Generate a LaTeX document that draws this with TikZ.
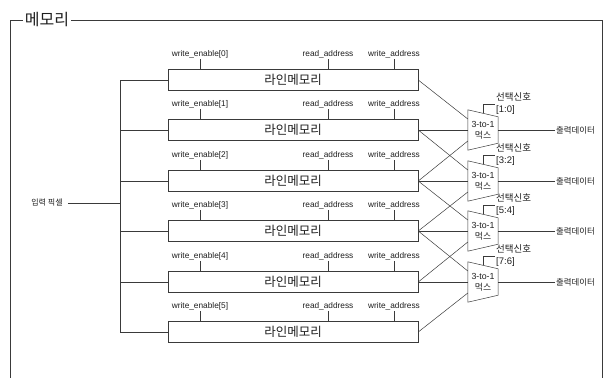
\documentclass[tikz,border=0pt]{standalone}
\usepackage{fontspec}
\setmainfont{Liberation Sans}
\newfontfamily\kr{Noto Sans CJK KR}
\usetikzlibrary{calc}
\definecolor{InkGray}{HTML}{3A3A3A}
\definecolor{TextGray}{HTML}{1E1E1E}
\tikzset{
  wire/.style={draw=InkGray, line width=0.5pt},
  linemem/.style={draw=InkGray, line width=0.5pt, minimum width=250pt, minimum height=21pt, inner sep=0pt, text=TextGray, font=\kr\fontsize{12.5}{14}\selectfont},
  sig/.style={inner sep=1pt, text=TextGray, font=\fontsize{8.3}{9}\selectfont},
  muxbox/.style={minimum width=30pt, minimum height=40pt, inner sep=0pt, align=center, text=TextGray, font=\fontsize{8.8}{11}\selectfont},
  sellabel/.style={anchor=west, inner sep=1pt, align=left, text=TextGray, font=\fontsize{9.5}{12}\selectfont},
  outlabel/.style={anchor=west, inner sep=1pt, text=TextGray, font=\kr\fontsize{8.4}{10}\selectfont},
  titlebox/.style={fill=white, inner sep=2pt, text=TextGray, font=\kr\fontsize{16}{18}\selectfont}
}

\begin{document}
\begin{tikzpicture}[x=1pt, y=-1pt]
\useasboundingbox (0,0) rectangle (606,378);
% outer frame
\node[titlebox] (title) at (47,20) {메모리};
\draw[wire] (title.west) -- (10,20) -- (10,378);
\draw[wire] (title.east) -- (602,20) -- (602,378);
% line memories
\node[linemem] (b0) at (293,80) {라인메모리};
\node[linemem] (b1) at (293,130) {라인메모리};
\node[linemem] (b2) at (293,181) {라인메모리};
\node[linemem] (b3) at (293,231) {라인메모리};
\node[linemem] (b4) at (293,282) {라인메모리};
\node[linemem] (b5) at (293,332) {라인메모리};
% control signals
\node[sig] (we0) at (200,54) {write\_enable[0]};
\node[sig] (ra0) at (328,54) {read\_address};
\node[sig] (wa0) at (394,54) {write\_address};
\node[sig] (we1) at (200,104) {write\_enable[1]};
\node[sig] (ra1) at (328,104) {read\_address};
\node[sig] (wa1) at (394,104) {write\_address};
\node[sig] (we2) at (200,155) {write\_enable[2]};
\node[sig] (ra2) at (328,155) {read\_address};
\node[sig] (wa2) at (394,155) {write\_address};
\node[sig] (we3) at (200,205) {write\_enable[3]};
\node[sig] (ra3) at (328,205) {read\_address};
\node[sig] (wa3) at (394,205) {write\_address};
\node[sig] (we4) at (200,256) {write\_enable[4]};
\node[sig] (ra4) at (328,256) {read\_address};
\node[sig] (wa4) at (394,256) {write\_address};
\node[sig] (we5) at (200,306) {write\_enable[5]};
\node[sig] (ra5) at (328,306) {read\_address};
\node[sig] (wa5) at (394,306) {write\_address};
\foreach \i in {0,...,5}{
  \draw[wire] (we\i.south) -- (we\i.south |- b\i.north);
  \draw[wire] (ra\i.south) -- (ra\i.south |- b\i.north);
  \draw[wire] (wa\i.south) -- (wa\i.south |- b\i.north);
}
% input pixel bus
\node[sig, font=\kr\fontsize{8}{9}\selectfont] (inp) at (47,203) {입력 픽셀};
\coordinate (bus) at (120,0);
\draw[wire] (inp.east) ++(4,0) -- (inp.east -| bus);
\draw[wire] (b0.west) -- (b0.west -| bus) -- (b5.west -| bus) -- (b5.west);
\draw[wire] (b1.west) -- (b1.west -| bus);
\draw[wire] (b2.west) -- (b2.west -| bus);
\draw[wire] (b3.west) -- (b3.west -| bus);
\draw[wire] (b4.west) -- (b4.west -| bus);
% muxes
\node[muxbox] (m1) at (483,130) {3-to-1\\{\kr 먹스}};
\node[muxbox] (m2) at (483,181) {3-to-1\\{\kr 먹스}};
\node[muxbox] (m3) at (483,231) {3-to-1\\{\kr 먹스}};
\node[muxbox] (m4) at (483,282) {3-to-1\\{\kr 먹스}};
\node[sellabel] (s1) at (495,104) {{\kr 선택신호}\\{[1:0]}};
\node[sellabel] (s2) at (495,155) {{\kr 선택신호}\\{[3:2]}};
\node[sellabel] (s3) at (495,205) {{\kr 선택신호}\\{[5:4]}};
\node[sellabel] (s4) at (495,256) {{\kr 선택신호}\\{[7:6]}};
\node[outlabel] (o1) at (555,130) {출력데이터};
\node[outlabel] (o2) at (555,181) {출력데이터};
\node[outlabel] (o3) at (555,231) {출력데이터};
\node[outlabel] (o4) at (555,282) {출력데이터};
\foreach \m in {1,...,4}{
  \draw[wire] (m\m.north west) -- ($(m\m.north east)+(0,7)$) -- ($(m\m.south east)+(0,-7)$) -- (m\m.south west) -- cycle;
  \draw[wire] ($(m\m.north)+(0,3.5)$) -- (m\m.north |- s\m.west) -- (s\m.west);
  \draw[wire] (m\m.east) -- (o\m.west);
}
% memory to mux
\draw[wire] (b0.east) -- ($(m1.west)+(0,-11)$);
\draw[wire] (b1.east) -- (m1.west);
\draw[wire] (b2.east) -- ($(m1.west)+(0,11)$);
\draw[wire] (b1.east) -- ($(m2.west)+(0,-11)$);
\draw[wire] (b2.east) -- (m2.west);
\draw[wire] (b3.east) -- ($(m2.west)+(0,11)$);
\draw[wire] (b2.east) -- ($(m3.west)+(0,-11)$);
\draw[wire] (b3.east) -- (m3.west);
\draw[wire] (b4.east) -- ($(m3.west)+(0,11)$);
\draw[wire] (b3.east) -- ($(m4.west)+(0,-11)$);
\draw[wire] (b4.east) -- (m4.west);
\draw[wire] (b5.east) -- ($(m4.west)+(0,11)$);
\end{tikzpicture}
\end{document}
